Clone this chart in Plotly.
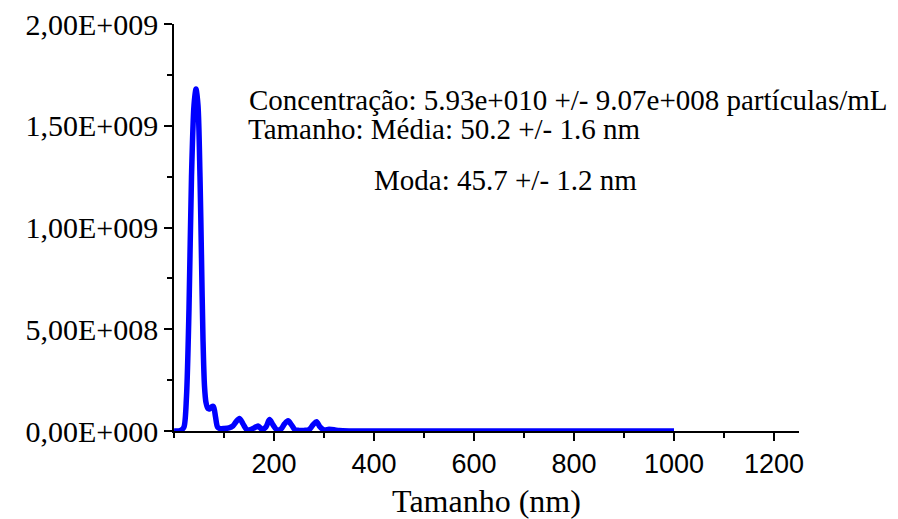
import plotly.graph_objects as go

# Particle size distribution (nm) and concentration (particles/mL per bin)
sizes = [0, 10, 15, 20, 25, 30, 35, 40, 44, 48, 52, 55, 58, 61, 64, 68, 72, 76, 79, 83, 87, 92,
         100, 110, 118, 124, 131, 138, 145, 150, 160, 168, 176, 184, 191, 198, 206, 214, 221,
         228, 235, 242, 250, 260, 270, 278, 285, 292, 300, 310, 320, 330, 350, 400, 500, 600,
         700, 800, 900, 1000]
concentration = [0, 0, 0.005e9, 0.02e9, 0.17e9, 0.6e9, 1.25e9, 1.6e9, 1.68e9, 1.6e9, 1.25e9,
                 0.85e9, 0.45e9, 0.22e9, 0.14e9, 0.11e9, 0.11e9, 0.12e9, 0.12e9, 0.07e9, 0.02e9,
                 0.012e9, 0.012e9, 0.015e9, 0.025e9, 0.045e9, 0.062e9, 0.035e9, 0.008e9,
                 0.005e9, 0.015e9, 0.025e9, 0.008e9, 0.02e9, 0.056e9, 0.03e9, 0.005e9, 0.01e9,
                 0.035e9, 0.05e9, 0.03e9, 0.006e9, 0.003e9, 0.003e9, 0.006e9, 0.03e9, 0.046e9,
                 0.02e9, 0.006e9, 0.008e9, 0.006e9, 0.002e9, 0, 0, 0, 0, 0, 0, 0, 0]

y_tickvals = [0, 5e8, 1e9, 1.5e9, 2e9]
y_ticktext = ["0,00E+000", "5,00E+008", "1,00E+009", "1,50E+009", "2,00E+009"]
x_tickvals = [200, 400, 600, 800, 1000, 1200]
x_ticktext = ["200", "400", "600", "800", "1000", "1200"]

annotation_lines = [
    "Concentração: 5.93e+010 +/- 9.07e+008 partículas/mL",
    "Tamanho: Média: 50.2 +/- 1.6 nm",
    "Moda: 45.7 +/- 1.2 nm",
]

SERIF = "Liberation Serif"
SANS = "Liberation Sans"

fig = go.Figure()
fig.add_trace(go.Scatter(
    x=sizes, y=concentration, mode="lines",
    line=dict(color="#0000FF", width=5.5, shape="spline", smoothing=0.8),
    showlegend=False, hoverinfo="skip",
))

fig.update_layout(
    width=898, height=519,
    margin=dict(l=174, r=99, t=24, b=88),
    paper_bgcolor="white", plot_bgcolor="white",
    showlegend=False,
)

fig.update_xaxes(
    range=[0, 1250], showgrid=False, zeroline=False, automargin=False,
    showline=True, linecolor="black", linewidth=1.5,
    ticks="outside", ticklen=8, tickwidth=1.5, tickcolor="black",
    tickmode="array", tickvals=x_tickvals, ticktext=x_ticktext,
    tickfont=dict(family=SANS, size=27, color="black"),
    minor=dict(ticks="outside", ticklen=5, tickwidth=1.5, tickcolor="black",
               tickmode="linear", tick0=0, dtick=100, showgrid=False),
    title=dict(text="Tamanho (nm)", font=dict(family=SERIF, size=32, color="black"), standoff=25),
)
fig.update_yaxes(
    range=[0, 2e9], showgrid=False, zeroline=False, automargin=False,
    showline=True, linecolor="black", linewidth=1.5,
    ticks="outside", ticklen=8, tickwidth=1.5, tickcolor="black",
    tickmode="array", tickvals=y_tickvals, ticktext=y_ticktext,
    tickfont=dict(family=SERIF, size=30, color="black"),
    minor=dict(ticks="outside", ticklen=5, tickwidth=1.5, tickcolor="black",
               tickmode="linear", tick0=0, dtick=2.5e8, showgrid=False),
)

# left edge / vertical centre in pixels -> paper coordinates
line_px = [(247, 100), (246, 129), (372, 180)]
for text, (px, py) in zip(annotation_lines, line_px):
    fig.add_annotation(
        x=(px - 174) / 625, y=(431 - py) / 407, xref="paper", yref="paper",
        text=text, showarrow=False, xanchor="left", yanchor="middle",
        font=dict(family=SERIF, size=29, color="black"),
    )

fig.write_html("out.html")
